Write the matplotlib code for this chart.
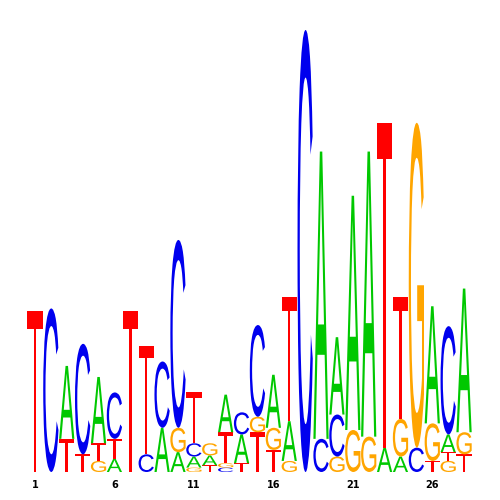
import matplotlib
matplotlib.use("Agg")
import matplotlib.pyplot as plt
from matplotlib.textpath import TextPath
from matplotlib.patches import PathPatch
from matplotlib.font_manager import FontProperties
from matplotlib.transforms import Affine2D

# information content (bits) per base, one value per position
positions = list(range(1, 29))
bits_A = [0, 0, .33, 0, .30, .06, 0, 0, .20, .09, .05, .045, .17, .13,
          0, .24, .18, 0, 1.30, .35, 1.06, 1.29, .11, .07, 0, .53, .08, .65]
bits_C = [0, .74, 0, .50, 0, .21, 0, .08, .30, .85, .06, 0, .02, .10,
          .415, 0, 0, 2.0, .15, .19, 0, 0, 0, 0, .11, 0, .49, 0]
bits_G = [0, 0, 0, 0, .05, 0, 0, 0, 0, .11, .02, .055, .02, 0,
          .07, .10, .05, 0, 0, .07, .19, .16, 0, .17, 1.47, .17, .05, .10]
bits_T = [.73, 0, .15, .08, .08, .09, .73, .49, 0, 0, .23, .03, .14, .04,
          .18, .10, .56, 0, 0, 0, 0, 0, 1.47, .55, 0, .05, .04, .08]

# stacking order, bottom to top
stack_order = ["T", "C", "TA", "TC", "GTA", "ATC", "T", "CT", "AC", "AGC",
               "GACT", "TAG", "CGTA", "TAC", "TGC", "TGA", "GAT", "C", "CA",
               "GCA", "GA", "GA", "AT", "AGT", "CG", "TGA", "GTAC", "TGA"]

tick_positions = [1, 6, 11, 16, 21, 26]

colors = {"A": "#00C800", "C": "#0000EE", "G": "#FFA500", "T": "#FF0000"}
bits = {"A": bits_A, "C": bits_C, "G": bits_G, "T": bits_T}
FONT = FontProperties(family="Liberation Sans")


def draw_letter(ax, letter, x, y, width, height, color):
    tp = TextPath((0, 0), letter, size=1, prop=FONT)
    bb = tp.get_extents()
    t = (Affine2D().translate(-bb.x0, -bb.y0)
         .scale(width / bb.width, height / bb.height)
         .translate(x - width / 2, y))
    ax.add_patch(PathPatch(t.transform_path(tp), facecolor=color,
                           edgecolor="none"))


fig = plt.figure(figsize=(5, 5), dpi=100)
ax = fig.add_axes([0.054, 0.056, 0.89, 0.884])

for i, pos in enumerate(positions):
    y = 0
    for letter in stack_order[i]:
        h = bits[letter][i]
        draw_letter(ax, letter, pos, y, 0.96, h, colors[letter])
        y += h

ax.set_xlim(0.5, 28.5)
ax.set_ylim(0, 2.0)
for s in ax.spines.values():
    s.set_visible(False)
ax.set_yticks([])
ax.set_xticks(tick_positions)
ax.set_xticklabels([str(t) for t in tick_positions], fontsize=7,
                   fontweight="bold")
ax.tick_params(axis="x", length=0, pad=6)

fig.savefig("out.png", dpi=100)
